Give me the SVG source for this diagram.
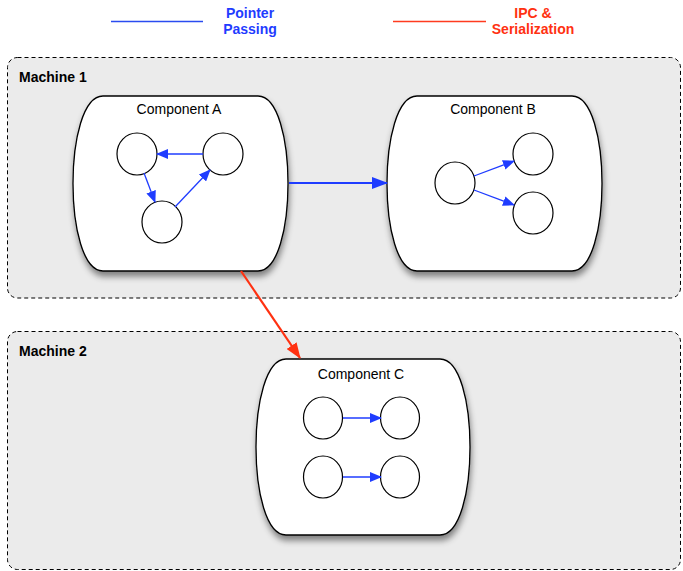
<svg xmlns="http://www.w3.org/2000/svg" width="683" height="571" viewBox="0 0 683 571">
<style>
.machine{fill:#ebebeb;stroke:#000;stroke-width:1;stroke-dasharray:4,3}
.mlabel{font-family:"Liberation Sans",Arial,sans-serif;font-weight:bold;font-size:14px;fill:#000}
.comp{fill:#fff;stroke:#000;stroke-width:1.3;filter:url(#shadow)}
.clabel{font-family:"Liberation Sans",Arial,sans-serif;font-size:14px;fill:#000;text-anchor:middle}
.node{fill:#fff;stroke:#000;stroke-width:1.2}
.ptr{stroke:#1f3cff;stroke-width:1.3;fill:none;marker-end:url(#ah)}
.ptrbig{stroke:#1f3cff;stroke-width:2.2;fill:none;marker-end:url(#ahbig)}
.ipc{stroke:#ff3111;stroke-width:2.2;fill:none;marker-end:url(#ahred)}
.leg{font-family:"Liberation Sans",Arial,sans-serif;font-weight:bold;font-size:14px;text-anchor:middle}
</style>
<defs>
<filter id="shadow" x="-20%" y="-20%" width="140%" height="150%">
<feDropShadow dx="1" dy="5" stdDeviation="3" flood-color="#000" flood-opacity="0.45"/>
</filter>
<marker id="ah" markerUnits="userSpaceOnUse" markerWidth="12" markerHeight="10" refX="11" refY="5" orient="auto">
<path d="M0,0 L12,5 L0,10 Z" fill="#1f3cff"/>
</marker>
<marker id="ahbig" markerUnits="userSpaceOnUse" markerWidth="16" markerHeight="12" refX="15" refY="6" orient="auto">
<path d="M0,0 L16,6 L0,12 Z" fill="#1f3cff"/>
</marker>
<marker id="ahred" markerUnits="userSpaceOnUse" markerWidth="16" markerHeight="12" refX="15" refY="6" orient="auto">
<path d="M0,0 L16,6 L0,12 Z" fill="#ff3111"/>
</marker>
</defs>

<g id="legend">
<line x1="111" y1="21.5" x2="203" y2="21.5" stroke="#2a4bf0" stroke-width="1.5"/>
<text class="leg" x="250" y="18" fill="#1f3cff">Pointer</text>
<text class="leg" x="250" y="34" fill="#1f3cff">Passing</text>
<line x1="393" y1="21.5" x2="486" y2="21.5" stroke="#ff3b1f" stroke-width="1.5"/>
<text class="leg" x="533" y="18" fill="#ff3111">IPC &amp;</text>
<text class="leg" x="533" y="34" fill="#ff3111">Serialization</text>
</g>

<g id="machine1">
<rect class="machine" x="7.5" y="57.5" width="673" height="240.5" rx="10"/>
<text class="mlabel" x="19" y="82">Machine 1</text>
</g>
<g id="machine2">
<rect class="machine" x="7.5" y="331.5" width="673" height="238" rx="10"/>
<text class="mlabel" x="19" y="356">Machine 2</text>
</g>

<g id="componentA">
<path class="comp" d="M103,96 H258 C278,96 288,140 288,183.5 C288,227 278,271 258,271 H103 C83,271 73,227 73,183.5 C73,140 83,96 103,96 Z"/>
<text class="clabel" x="179" y="114">Component A</text>
<ellipse class="node" cx="137" cy="154" rx="20" ry="21"/>
<ellipse class="node" cx="223" cy="154" rx="20" ry="21"/>
<ellipse class="node" cx="162" cy="222" rx="20" ry="21"/>
</g>

<g id="componentB">
<path class="comp" d="M417,96 H572 C592,96 602,140 602,183.5 C602,227 592,271 572,271 H417 C397,271 387,227 387,183.5 C387,140 397,96 417,96 Z"/>
<text class="clabel" x="493" y="114">Component B</text>
<ellipse class="node" cx="455" cy="183" rx="20" ry="21"/>
<ellipse class="node" cx="533" cy="154" rx="20" ry="21"/>
<ellipse class="node" cx="533" cy="213" rx="20" ry="21"/>
</g>

<g id="componentC">
<path class="comp" d="M286,359 H440 C460,359 470,403 470,447 C470,491 460,535 440,535 H286 C266,535 256,491 256,447 C256,403 266,359 286,359 Z"/>
<text class="clabel" x="361" y="379">Component C</text>
<ellipse class="node" cx="323" cy="418" rx="19.5" ry="21"/>
<ellipse class="node" cx="400" cy="418" rx="19.5" ry="21"/>
<ellipse class="node" cx="323" cy="477" rx="19.5" ry="21"/>
<ellipse class="node" cx="400" cy="477" rx="19.5" ry="21"/>
</g>

<g id="connectors">
<line class="ptr" x1="203" y1="154" x2="157" y2="154"/>
<line class="ptr" x1="144" y1="173" x2="155" y2="202"/>
<line class="ptr" x1="175" y1="207" x2="210" y2="170"/>
<line class="ptr" x1="474" y1="176" x2="514" y2="161"/>
<line class="ptr" x1="474" y1="190" x2="514" y2="205"/>
<line class="ptr" x1="343" y1="418" x2="381" y2="418"/>
<line class="ptr" x1="343" y1="477" x2="381" y2="477"/>
<line class="ptrbig" x1="289" y1="183" x2="387" y2="183"/>
<line class="ipc" x1="241" y1="271" x2="300" y2="358"/>
</g>
</svg>
